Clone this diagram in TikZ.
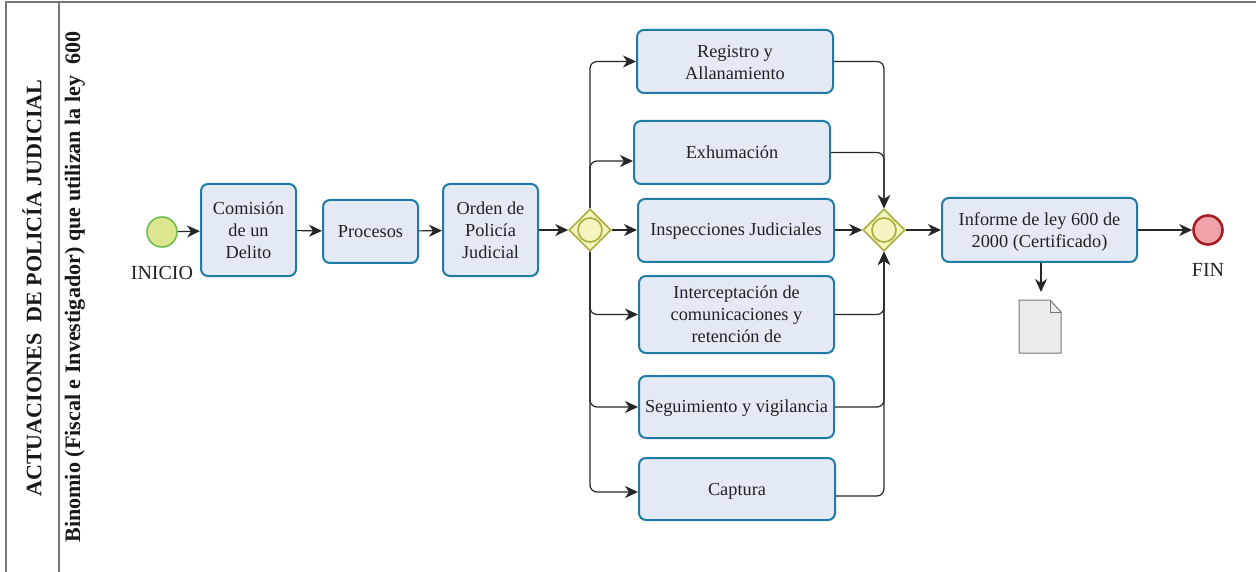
\documentclass[tikz,border=0pt]{standalone}
\usepackage{fontspec}
\setmainfont{Liberation Serif}
\usetikzlibrary{arrows.meta,shapes.geometric,calc}
\definecolor{boxfill}{HTML}{E3E9F5}
\definecolor{boxline}{HTML}{1F7BA6}
\definecolor{gwfill}{HTML}{F4F4BE}
\definecolor{gwline}{HTML}{A8AE3C}
\definecolor{startfill}{HTML}{DCE68F}
\definecolor{startline}{HTML}{6DBE4B}
\definecolor{endfill}{HTML}{EFA3A8}
\definecolor{endline}{HTML}{A81E26}
\definecolor{frameline}{HTML}{777777}
\definecolor{txt}{HTML}{222222}
\tikzset{
  x=1pt,y=-1pt,
  task/.style={draw=boxline,fill=boxfill,line width=2pt,rounded corners=7pt,inner sep=0pt,align=center,text=txt,font=\fontsize{18.3}{22}\selectfont},
  gateway/.style={diamond,draw=gwline,fill=gwfill,line width=1.6pt,minimum width=42pt,minimum height=42pt,inner sep=0pt},
  gwring/.style={circle,draw=gwline,fill=gwfill,line width=1.6pt,minimum size=24pt,inner sep=0pt},
  startev/.style={circle,draw=startline,fill=startfill,line width=1.6pt,minimum size=30pt,inner sep=0pt},
  endev/.style={circle,draw=endline,fill=endfill,line width=2.6pt,minimum size=29pt,inner sep=0pt},
  flow/.style={draw=black!85,line width=1.2pt,rounded corners=7pt,-{Stealth[length=13pt,width=12pt,inset=4pt]}},
  lab/.style={text=txt,inner sep=0pt,font=\fontsize{20}{22}\selectfont},
  lane/.style={draw=frameline,line width=1.2pt},
  lanetitle/.style={rotate=90,inner sep=0pt,text=black!90,font=\bfseries\fontsize{22.1}{24}\selectfont},
}
\newcommand{\taskat}[6]{\node[task,minimum width=#3pt-#2pt,minimum height=#5pt-#4pt] (#1) at ({(#2+#3)/2},{(#4+#5)/2}) {#6};}
\newcommand{\lowr}[1]{\rule{0pt}{#1pt}}
\begin{document}
\begin{tikzpicture}
\useasboundingbox (0,0) rectangle (1256,572);
\draw[lane] (1256,2) -- (6,2) -- (6,572);
\draw[lane] (59,2) -- (59,572);
\node[lanetitle] (t1) at (32,288) {ACTUACIONES\ \ DE POLICÍA JUDICIAL};
\node[lanetitle] (t2) at (75,287) {Binomio (Fiscal e Investigador) que utilizan la ley\ \ 600};

\node[startev] (start) at (162,232) {};
\node[lab] (inicio) at (162,273) {INICIO};
\taskat{comision}{201}{296}{184}{276}{Comisión\\de un\\Delito}
\taskat{procesos}{323}{418}{200}{263}{Procesos}
\taskat{orden}{443}{538}{184}{276}{Orden de\\Policía\\Judicial}
\node[gateway] (gw1) at (590,230) {};
\node[gwring] (gw1r) at (590,230) {};
\taskat{registro}{637}{833}{30}{93}{\lowr{14.5}Registro y\\Allanamiento}
\taskat{exhum}{634}{830}{121}{184}{Exhumación}
\taskat{insp}{638}{834}{199}{262}{\lowr{14.5}Inspecciones Judiciales}
\taskat{inter}{639}{834}{276}{353}{Interceptación de\\comunicaciones y\\retención de}
\taskat{seg}{639}{834}{376}{438}{\lowr{14.5}Seguimiento y vigilancia}
\taskat{captura}{639}{835}{458}{520}{\lowr{17.5}Captura}
\node[gateway] (gw2) at (884,230) {};
\node[gwring] (gw2r) at (884,230) {};
\taskat{informe}{942}{1137}{198}{262}{\lowr{16.5}Informe de ley 600 de\\2000 (Certificado)}
\node[endev] (fin) at (1208,230) {};
\node[lab] (finl) at (1208,270) {FIN};
\coordinate (doctop) at (1041,292);
\draw[draw=frameline,fill=black!8,line width=1pt,line join=miter] (1019,300) -- (1050,300) -- (1061,312) -- (1061,353) -- (1019,353) -- cycle;
\draw[draw=frameline,line width=1pt] (1050,300) -- (1050,312) -- (1061,312);

\draw[flow] (start) -- (comision);
\draw[flow] (comision) -- (procesos);
\draw[flow] (procesos) -- (orden);
\draw[flow] (orden.east |- gw1) -- (gw1);
\draw[flow] (gw1) -- (insp.west |- gw1);
\draw[flow] (gw1.north) |- (registro.west);
\draw[flow] (gw1.north) |- (exhum.west |- 0,161);
\draw[flow] (gw1.south) |- (inter.west);
\draw[flow] (gw1.south) |- (seg.west);
\draw[flow] (gw1.south) |- (captura.west |- 0,492);
\draw[flow] (registro.east) -| (gw2.north);
\draw[flow] (exhum.east) -| (gw2.north);
\draw[flow] (insp.east |- gw2) -- (gw2);
\draw[flow] (inter.east) -| (gw2.south);
\draw[flow] (seg.east) -| (gw2.south);
\draw[flow] (captura.east |- 0,496) -| (gw2.south);
\draw[flow] (gw2) -- (informe.west |- gw2);
\draw[flow] (informe.east |- fin) -- (fin);
\draw[flow] (informe.south -| doctop) -- (doctop);
\end{tikzpicture}
\end{document}
